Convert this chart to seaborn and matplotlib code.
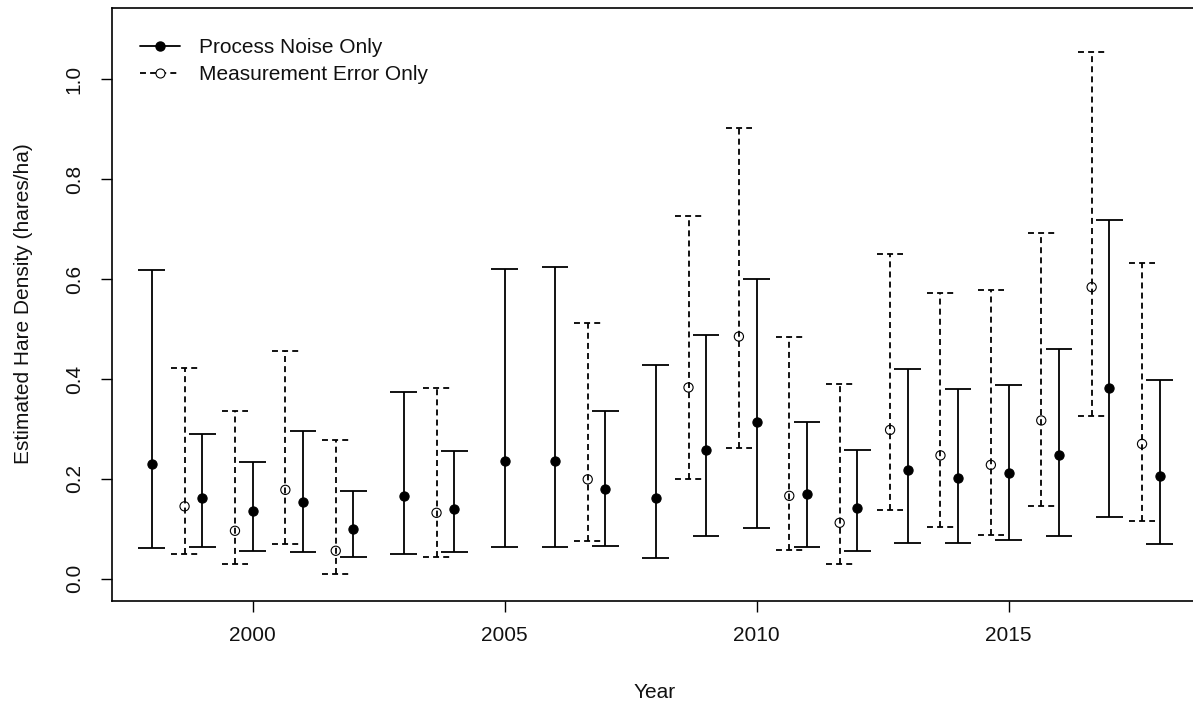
import numpy as np
import pandas as pd
import matplotlib
matplotlib.use("Agg")
import matplotlib.pyplot as plt
from matplotlib.lines import Line2D
import seaborn as sns

# ---- data ----
pn_year = [1998, 1999, 2000, 2001, 2002, 2003, 2004, 2005, 2006, 2007, 2008,
           2009, 2010, 2011, 2012, 2013, 2014, 2015, 2016, 2017, 2018]
pn_est = [0.229, 0.162, 0.135, 0.153, 0.100, 0.165, 0.139, 0.235, 0.235, 0.180, 0.162,
          0.257, 0.314, 0.170, 0.142, 0.218, 0.202, 0.211, 0.247, 0.381, 0.205]
pn_lo = [0.062, 0.064, 0.056, 0.053, 0.043, 0.050, 0.054, 0.064, 0.064, 0.066, 0.042,
         0.085, 0.101, 0.064, 0.055, 0.071, 0.071, 0.077, 0.085, 0.123, 0.069]
pn_hi = [0.618, 0.290, 0.233, 0.295, 0.175, 0.374, 0.256, 0.621, 0.624, 0.335, 0.428,
         0.488, 0.600, 0.313, 0.257, 0.420, 0.380, 0.387, 0.461, 0.719, 0.397]

me_year = [1999, 2000, 2001, 2002, 2004, 2007, 2009, 2010, 2011, 2012, 2013,
           2014, 2015, 2016, 2017, 2018]
me_est = [0.145, 0.096, 0.178, 0.056, 0.132, 0.199, 0.383, 0.485, 0.166, 0.112, 0.298,
          0.247, 0.228, 0.317, 0.584, 0.270]
me_lo = [0.050, 0.029, 0.070, 0.010, 0.044, 0.076, 0.199, 0.262, 0.058, 0.030, 0.137,
         0.104, 0.088, 0.145, 0.325, 0.115]
me_hi = [0.423, 0.335, 0.456, 0.278, 0.382, 0.512, 0.727, 0.902, 0.485, 0.389, 0.650,
         0.572, 0.578, 0.692, 1.054, 0.632]

x_ticks = [2000, 2005, 2010, 2015]
y_ticks = [0.0, 0.2, 0.4, 0.6, 0.8, 1.0]
labels = ["Process Noise Only", "Measurement Error Only"]

# ---- style ----
sns.set_style("ticks")
plt.rcParams["font.family"] = ["Liberation Sans", "DejaVu Sans"]
plt.rcParams["text.color"] = "#111111"
plt.rcParams["axes.labelcolor"] = "#111111"
plt.rcParams["xtick.color"] = "#111111"
plt.rcParams["ytick.color"] = "#111111"
FS = 15

W, H = 1193, 707
fig = plt.figure(figsize=(W / 100, H / 100), dpi=100)
ax = fig.add_axes([111.5 / W, 1 - 600.7 / H, (1200 - 111.5) / W, (600.7 - 7.5) / H])

pn = pd.DataFrame({"year": pn_year, "est": pn_est, "lo": pn_lo, "hi": pn_hi})
me = pd.DataFrame({"year": me_year, "est": me_est, "lo": me_lo, "hi": me_hi})
offset = 0.35
me["x"] = me["year"] - offset
pn["x"] = pn["year"].astype(float)

cap = 0.265
lw = 1.3
dash = (0, (3.3, 2.3))

# process noise: solid
ax.vlines(pn["x"], pn["lo"], pn["hi"], colors="black", linewidth=lw, zorder=2)
ax.hlines(pn["lo"], pn["x"] - cap, pn["x"] + cap, colors="black", linewidth=lw, zorder=2)
ax.hlines(pn["hi"], pn["x"] - cap, pn["x"] + cap, colors="black", linewidth=lw, zorder=2)
sns.scatterplot(data=pn, x="x", y="est", ax=ax, color="black", edgecolor="black",
                s=44, linewidth=0.8, marker="o", zorder=3, legend=False)

# measurement error: dashed
ax.vlines(me["x"], me["lo"], me["hi"], colors="black", linewidth=lw, linestyles=[dash], zorder=2)
ax.hlines(me["lo"], me["x"] - cap, me["x"] + cap, colors="black", linewidth=lw, linestyles=[dash], zorder=2)
ax.hlines(me["hi"], me["x"] - cap, me["x"] + cap, colors="black", linewidth=lw, linestyles=[dash], zorder=2)
sns.scatterplot(data=me, x="x", y="est", ax=ax, color="black", facecolor="none",
                edgecolor="black", s=44, linewidth=0.8, marker="o", zorder=3, legend=False)

# ---- axes ----
ax.set_xlim(1997.2, 2018.8)
ax.set_ylim(-0.044, 1.144)
ax.set_xticks(x_ticks)
ax.set_xticklabels([str(t) for t in x_ticks], fontsize=FS)
ax.set_yticks(y_ticks)
ax.set_yticklabels([f"{t:.1f}" for t in y_ticks], fontsize=FS, rotation=90, va="center")
ax.tick_params(axis="both", direction="out", length=8, width=1.0, color="black")
ax.tick_params(axis="x", pad=10)
ax.tick_params(axis="y", pad=12)
for side in ["left", "bottom", "top", "right"]:
    ax.spines[side].set_visible(True)
    ax.spines[side].set_linewidth(1.2)
    ax.spines[side].set_color("black")

ax.set_xlabel("Year", fontsize=FS)
ax.set_ylabel("Estimated Hare Density (hares/ha)", fontsize=FS)
ax.xaxis.label.set_va("center")
ax.yaxis.label.set_va("center")
axw = 1200 - 111.5
axh = 600.7 - 7.5
ax.xaxis.set_label_coords((655.0 - 111.5) / axw, -(693 - 600.7) / axh)
ax.yaxis.set_label_coords(-(111.5 - 24) / axw, 0.5)

# ---- legend ----
handles = [
    Line2D([], [], color="black", linewidth=lw, marker="o", markersize=6.5,
           markerfacecolor="black", markeredgecolor="black"),
    Line2D([], [], color="black", linewidth=lw, linestyle=dash, marker="o", markersize=6.5,
           markerfacecolor="white", markeredgecolor="black", markeredgewidth=0.8),
]
leg = ax.legend(handles, labels, loc="upper left", frameon=False, fontsize=FS,
                bbox_to_anchor=(140 / W, 1 - 38 / H), bbox_transform=fig.transFigure,
                borderpad=0, borderaxespad=0, handlelength=1.92, handletextpad=0.9,
                labelspacing=0.38)

fig.savefig("out.png", dpi=100)
